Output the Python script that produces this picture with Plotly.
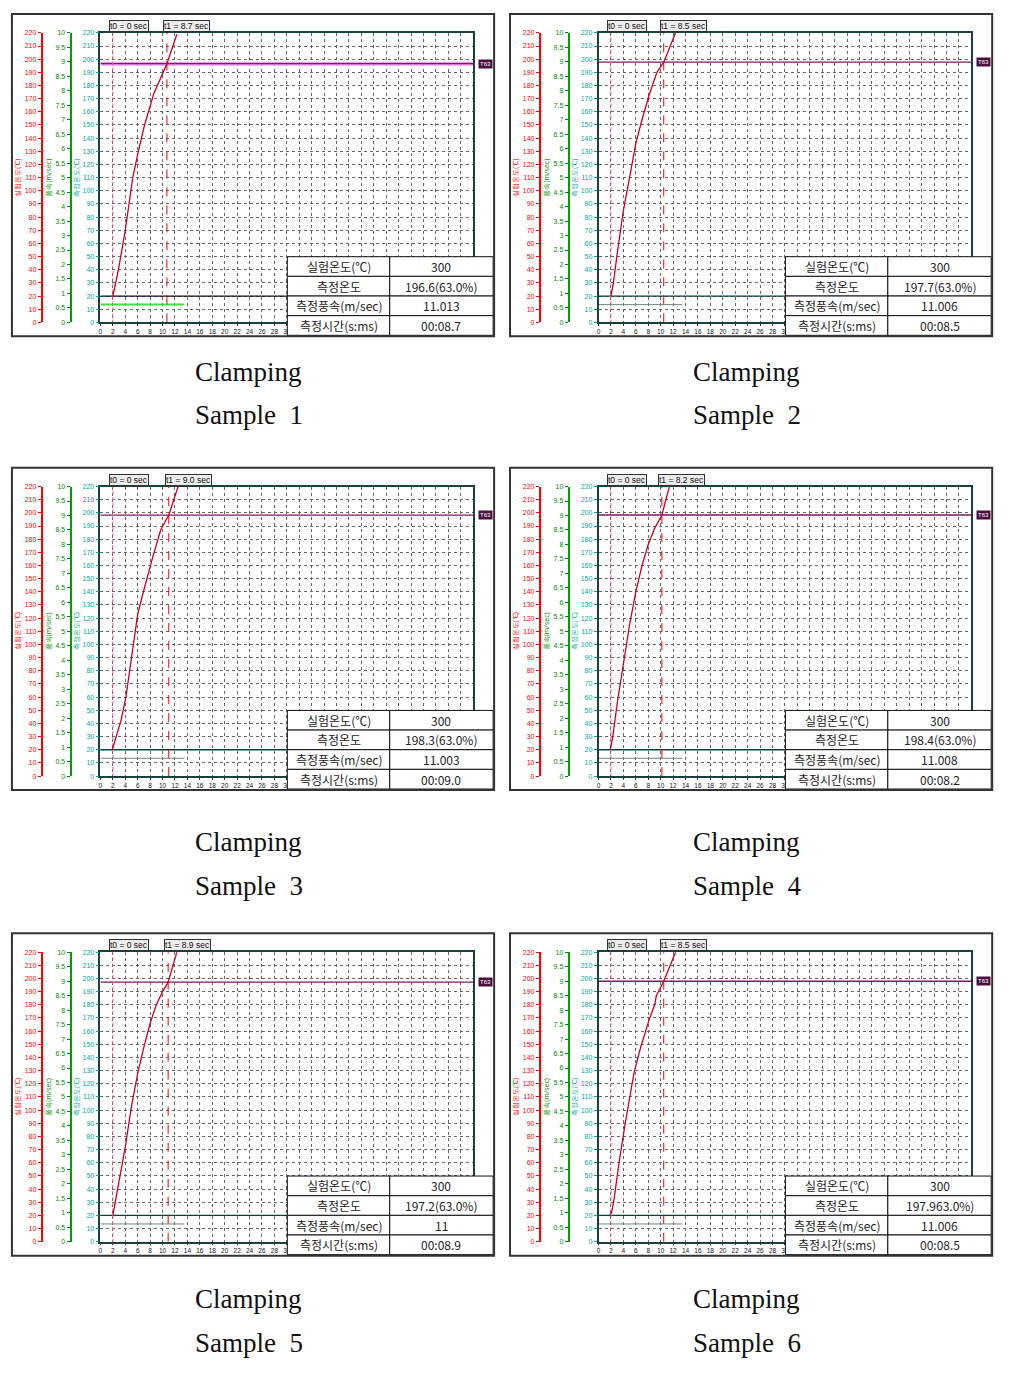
import plotly.graph_objects as go

W, H = 1031, 1387

samples = ["1", "2", "3", "4", "5", "6"]

s1_time = [2.0, 2.9, 4.0, 5.2, 6.1, 7.1, 8.6, 10.0, 10.7, 12.3]
s1_temp = [20, 40, 70, 110, 130, 150, 174, 190, 196.6, 219]
s2_time = [2.0, 2.4, 3.0, 4.0, 5.0, 6.0, 7.0, 8.1, 9.4, 10.5, 12.4]
s2_temp = [20, 30, 52, 85, 110, 136, 154, 172, 190, 197.7, 220]
s3_time = [1.9, 2.5, 3.3, 4.1, 5.0, 5.5, 6.0, 6.8, 7.6, 8.4, 9.7, 11.0, 12.5]
s3_temp = [20, 30, 42, 60, 90, 110, 123, 138, 153, 166, 187, 198.3, 220]
s4_time = [1.9, 2.3, 3.0, 4.0, 5.0, 6.0, 7.0, 8.0, 9.0, 10.2, 11.4]
s4_temp = [20, 30, 55, 85, 115, 140, 160, 176, 188, 198.4, 220]
s5_time = [2.0, 3.0, 4.0, 5.0, 6.0, 7.0, 8.0, 9.0, 10.0, 10.9, 12.3]
s5_temp = [20, 45, 72, 103, 128, 148, 166, 180, 190, 197.2, 220]
s6_time = [1.8, 2.1, 2.5, 3.3, 4.3, 4.9, 5.7, 6.8, 8.1, 9.1, 9.3, 10.5, 12.4]
s6_temp = [20, 22, 32, 60, 90, 105, 128, 148, 168, 181, 187, 197.9, 220]

curve_time = [s1_time, s2_time, s3_time, s4_time, s5_time, s6_time]
curve_temp = [s1_temp, s2_temp, s3_temp, s4_temp, s5_temp, s6_temp]

t0_pos = 2.0
t1_sec = [8.7, 8.5, 9.0, 8.2, 8.9, 8.5]
t63 = [196.6, 197.7, 198.3, 198.4, 197.2, 197.9]
ambient = 20
wind_level = 13.5
wind_end = 13.5

row_labels = ["실험온도(℃)", "측정온도", "측정풍속(m/sec)", "측정시간(s:ms)"]
set_temp = ["300"] * 6
meas_temp = ["196.6(63.0%)", "197.7(63.0%)", "198.3(63.0%)",
             "198.4(63.0%)", "197.2(63.0%)", "197.963.0%)"]
wind_speed = ["11.013", "11.006", "11.003", "11.008", "11", "11.006"]
meas_time = ["00:08.7", "00:08.5", "00:09.0", "00:08.2", "00:08.9", "00:08.5"]

# ---- panel placement (px) ----
panel_left = [10, 511, 10, 511, 10, 511]
panel_top = [10, 10, 466, 466, 934, 934]
caption_y = [(370, 413), (370, 413), (842, 886), (842, 886), (1302, 1346), (1302, 1346)]


def fx(px):
    return px / W


def fy(py):
    return 1 - py / H


fig = go.Figure()
layout = dict(width=W, height=H, margin=dict(l=0, r=0, t=0, b=0),
              paper_bgcolor="white", plot_bgcolor="white", showlegend=False)
shapes, annotations = [], []
tick_font = "Liberation Sans"

for i in range(6):
    L, T = panel_left[i], panel_top[i]
    xn = i + 1
    ym, yr, yg = 3 * i + 1, 3 * i + 2, 3 * i + 3
    xa, ya = f"x{xn}", f"y{ym}"
    t1 = t0_pos + t1_sec[i]
    first = i == 0

    layout[f"xaxis{xn}"] = dict(
        domain=[fx(L + 89), fx(L + 464)], anchor=ya, range=[0, 60],
        tickvals=list(range(0, 61, 2)), tickfont=dict(size=6.5, family=tick_font, color="#111"),
        ticks="outside", ticklen=2, tickcolor="#333",
        showline=True, linecolor="#1a4040", linewidth=1.5, mirror=True,
        showgrid=True, gridcolor="#666", griddash="dot", gridwidth=1, zeroline=False)
    layout[f"yaxis{ym}"] = dict(
        domain=[fy(T + 310), fy(T + 19)], anchor=xa, range=[0, 220], dtick=10,
        tickfont=dict(size=7, family=tick_font, color="#00a8a8"),
        ticks="outside", ticklen=3, tickcolor="#00a8a8",
        title=dict(text="측정온도(℃)", font=dict(size=7, color="#00a8a8"), standoff=2),
        showline=True, linecolor="#1a4040", linewidth=1.5, mirror=True,
        showgrid=True, gridcolor="#666", griddash="dot", gridwidth=1, zeroline=False)
    layout[f"yaxis{yr}"] = dict(
        overlaying=ya, anchor="free", position=fx(L + 30), side="left",
        range=[0, 220], dtick=10,
        tickfont=dict(size=7, family=tick_font, color="#ff0000"),
        ticks="outside", ticklen=3, tickcolor="#ff0000",
        title=dict(text="실험온도(℃)", font=dict(size=7, color="#ff0000"), standoff=2),
        showline=True, linecolor="#ff0000", linewidth=2, showgrid=False, zeroline=False)
    layout[f"yaxis{yg}"] = dict(
        overlaying=ya, anchor="free", position=fx(L + 59), side="left",
        range=[0, 10], dtick=0.5,
        tickfont=dict(size=7, family=tick_font, color="#008800"),
        ticks="outside", ticklen=3, tickcolor="#008800",
        title=dict(text="풍속(m/sec)", font=dict(size=7, color="#008800"), standoff=2),
        showline=True, linecolor="#00a000", linewidth=2, showgrid=False, zeroline=False)

    # keep the free axes alive
    for yy in (yr, yg):
        fig.add_trace(go.Scatter(x=[None], y=[None], xaxis=xa, yaxis=f"y{yy}",
                                 hoverinfo="skip"))

    # ambient and wind reference lines
    fig.add_trace(go.Scatter(x=[0, 60], y=[ambient, ambient], xaxis=xa, yaxis=ya, mode="lines",
                             line=dict(color="#101010" if first else "#0a4040", width=1.3),
                             hoverinfo="skip"))
    fig.add_trace(go.Scatter(x=[0, wind_end], y=[wind_level, wind_level], xaxis=xa, yaxis=ya,
                             mode="lines",
                             line=dict(color="#44dd44" if first else "#6a8a7a",
                                       width=2 if first else 1),
                             hoverinfo="skip"))
    # T63 line
    if first:
        fig.add_trace(go.Scatter(x=[0, 60], y=[t63[i], t63[i]], xaxis=xa, yaxis=ya, mode="lines",
                                 line=dict(color="#f0a0f0", width=4), hoverinfo="skip"))
    fig.add_trace(go.Scatter(x=[0, 60], y=[t63[i], t63[i]], xaxis=xa, yaxis=ya, mode="lines",
                             line=dict(color="#7a1a6a", width=1.3), hoverinfo="skip"))
    # t0 / t1 markers
    fig.add_trace(go.Scatter(x=[t0_pos, t0_pos], y=[0, 220], xaxis=xa, yaxis=ya, mode="lines",
                             line=dict(color="#ff6080", width=1, dash="dot"), hoverinfo="skip"))
    fig.add_trace(go.Scatter(x=[t1, t1], y=[0, 220], xaxis=xa, yaxis=ya, mode="lines",
                             line=dict(color="#ee0000", width=1, dash="dash"), hoverinfo="skip"))
    # temperature curve
    fig.add_trace(go.Scatter(x=curve_time[i], y=curve_temp[i], xaxis=xa, yaxis=ya, mode="lines",
                             line=dict(color="#cc0020", width=1.3), hoverinfo="skip"))

    # marker tags above the plot
    for tx, label in ((t0_pos, "t0 = 0 sec"), (t1, f"t1 = {t1_sec[i]:.1f} sec")):
        annotations.append(dict(
            x=tx, xref=xa, y=fy(T + 12), yref="paper", xanchor="left", yanchor="middle",
            xshift=-4, text=label, showarrow=False,
            font=dict(size=8.5, family=tick_font, color="#111"),
            bgcolor="#ececec", bordercolor="#333", borderwidth=1, borderpad=0))
    annotations.append(dict(
        x=fx(L + 469), xref="paper", y=t63[i], yref=ya, xanchor="left", yanchor="middle",
        text="T63", showarrow=False, font=dict(size=6, family=tick_font, color="white"),
        bgcolor="#4a1040", borderpad=1))

    # result table
    rows = [(row_labels[0], set_temp[i]), (row_labels[1], meas_temp[i]),
            (row_labels[2], wind_speed[i]), (row_labels[3], meas_time[i])]
    cx = [L + 277, L + 380, L + 484]
    rh = 19.75
    for r, (lab, val) in enumerate(rows):
        y0 = T + 244 + r * rh
        for c in range(2):
            shapes.append(dict(type="rect", xref="paper", yref="paper",
                               x0=fx(cx[c]), x1=fx(cx[c + 1]), y0=fy(y0 + rh), y1=fy(y0),
                               line=dict(color="#111", width=1), fillcolor="white",
                               layer="above"))
        for c, txt in enumerate((lab, val)):
            annotations.append(dict(
                x=fx((cx[c] + cx[c + 1]) / 2), y=fy(y0 + rh / 2), xref="paper", yref="paper",
                text=txt, showarrow=False, xanchor="center", yanchor="middle",
                font=dict(size=12, family="Noto Sans CJK KR", color="#222")))

    # panel frame
    shapes.append(dict(type="rect", xref="paper", yref="paper",
                       x0=fx(L), x1=fx(L + 485), y0=fy(T + 324), y1=fy(T),
                       line=dict(color="#333", width=2), layer="above"))

    # caption
    cxp = L + 238
    for txt, cy in (("Clamping", caption_y[i][0]), ("Sample\u00a0\u00a0" + samples[i], caption_y[i][1])):
        annotations.append(dict(x=fx(cxp), y=fy(cy), xref="paper", yref="paper",
                                xanchor="center", yanchor="middle",
                                text=txt, showarrow=False,
                                font=dict(size=27, family="Liberation Serif", color="#111")))

layout["shapes"] = shapes
layout["annotations"] = annotations
fig.update_layout(**layout)
fig.write_html("out.html", config={"displayModeBar": False},
               post_script="document.body.style.margin='0px';")
